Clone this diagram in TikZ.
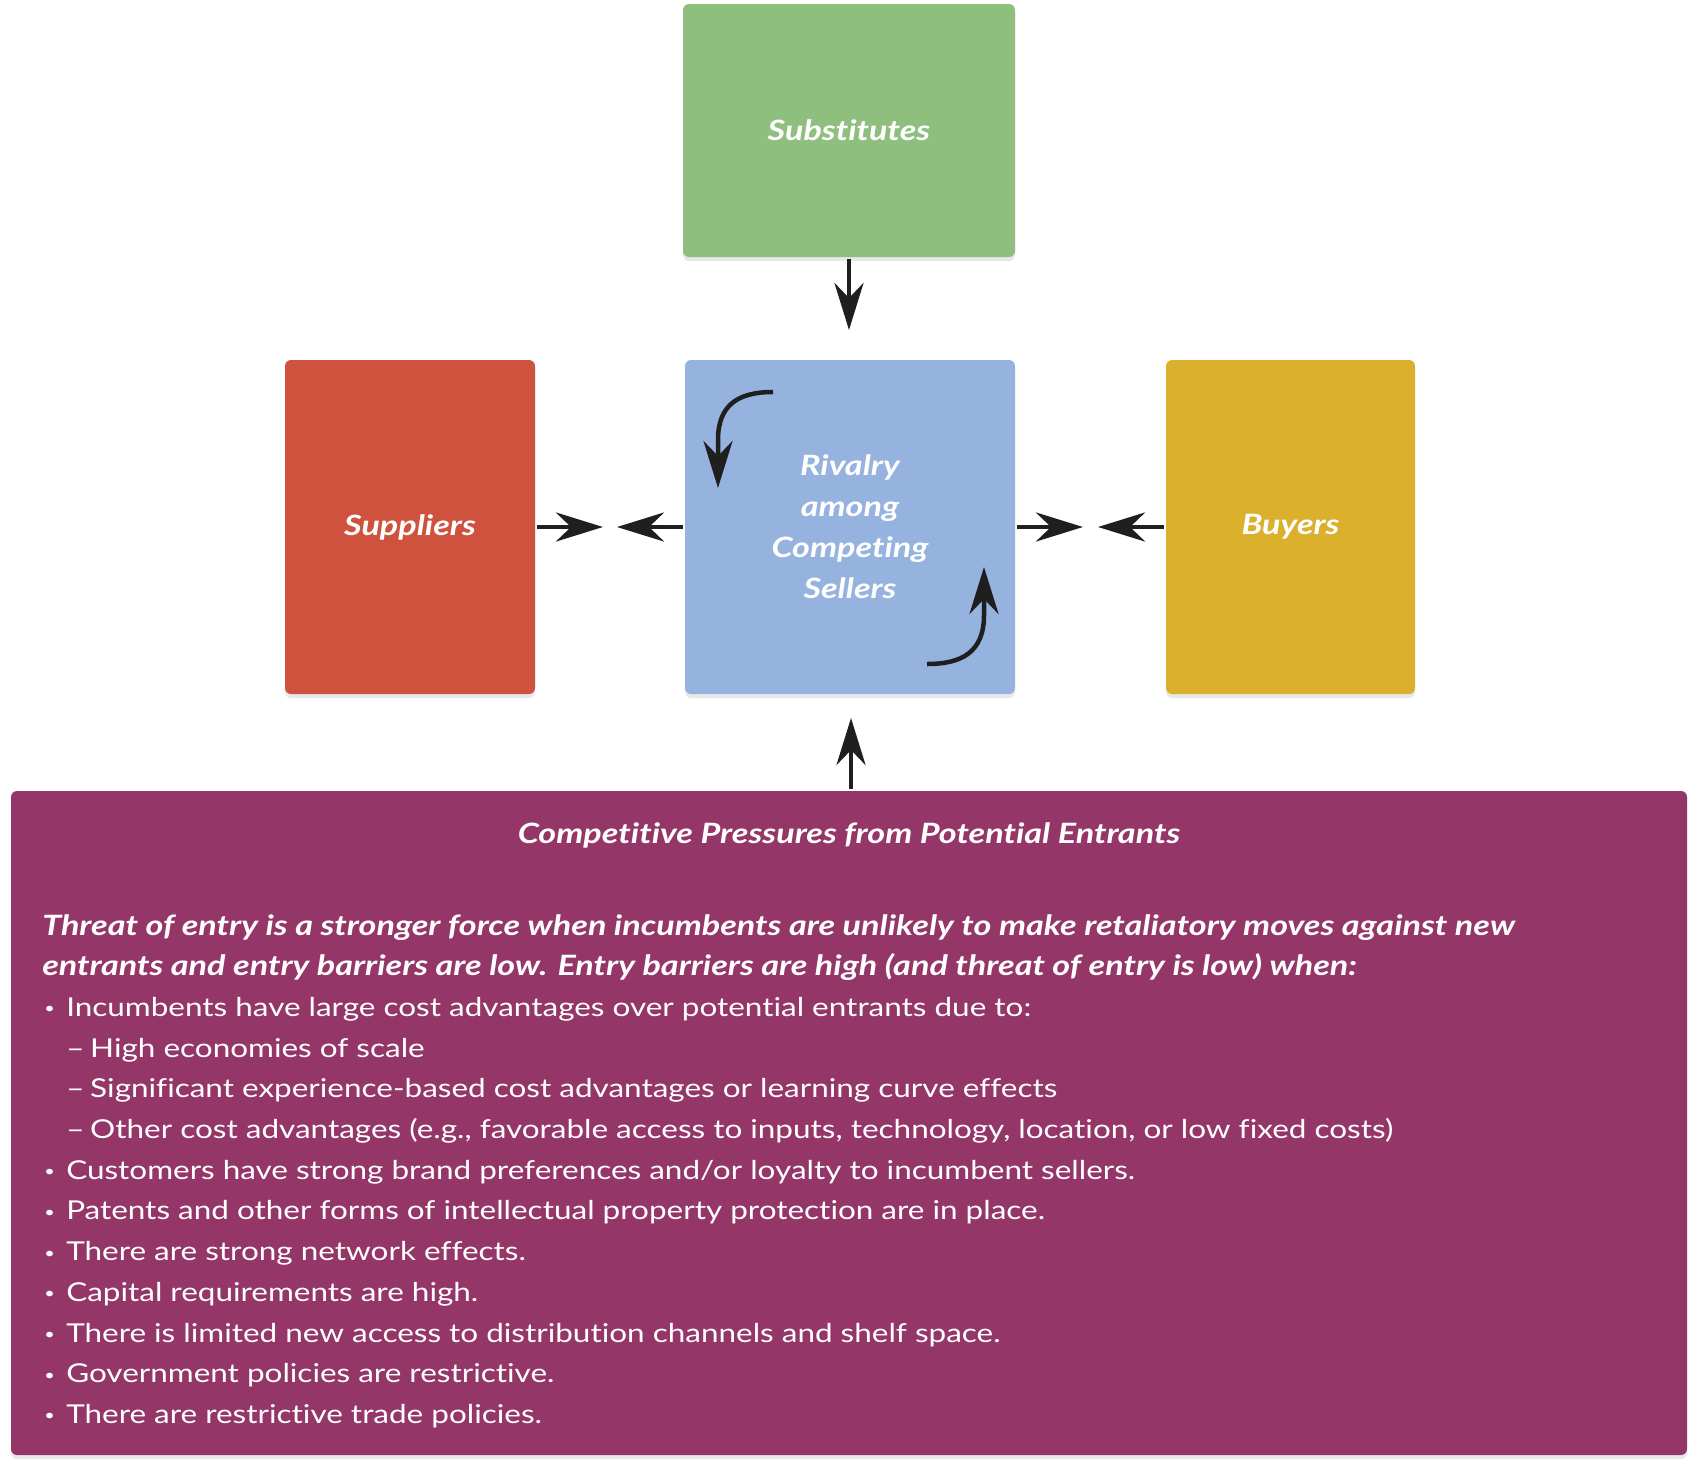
\documentclass[tikz,border=0pt]{standalone}
\usepackage{fontspec}
\setmainfont{Lato}[Ligatures = NoCommon,
    UprightFeatures = {FakeStretch = 1.21},
    BoldItalicFeatures = {FakeStretch = 1.22}]
\usetikzlibrary{arrows.meta,shadows}

\definecolor{subsgreen}{RGB}{143,191,127}
\definecolor{rivalblue}{RGB}{149,179,222}
\definecolor{suppred}{RGB}{206,82,61}
\definecolor{buyyellow}{RGB}{219,176,45}
\definecolor{entrpurple}{RGB}{148,55,104}

\newcommand{\blt}{\makebox[24pt][l]{\hspace{2pt}\raisebox{2.5pt}{\fontsize{15}{15}\selectfont\textbullet}}}
\newcommand{\dsh}{\hspace*{24pt}\makebox[24pt][l]{–}}
\newcommand{\lead}[1]{{\fontsize{28}{40.7}\selectfont\bfseries\itshape #1}}

\begin{document}
\begin{tikzpicture}[x = 1pt, y = -1pt, line width = 4.5pt,
    force/.style = {rectangle, rounded corners = 6pt, inner sep = 0pt,
        drop shadow = {shadow xshift = 0pt, shadow yshift = -4pt, opacity = 0.18},
        text = white, font = \fontsize{28}{41}\selectfont\bfseries\itshape, align = center},
    arr/.style = {-{Stealth[length = 47pt, width = 29pt, inset = 15pt]}, black!88}]
\useasboundingbox (0,0) rectangle (1700,1475);
\draw (849,130.5) node[force, fill = subsgreen, minimum width = 332pt, minimum height = 253pt](subs){Substitutes}
    (850,527) node[force, fill = rivalblue, minimum width = 330pt, minimum height = 334pt](rival){Rivalry\\among\\Competing\\Sellers}
    (410,527) node[force, fill = suppred, minimum width = 250pt, minimum height = 334pt](supp){Suppliers}
    (1290.5,527) node[force, fill = buyyellow, minimum width = 249pt, minimum height = 334pt](buyers){Buyers}
    (849,1123) node[force, fill = entrpurple, minimum width = 1676pt, minimum height = 664pt](entr){};
% arrow tips in the gaps
\coordinate (substip) at (849,330);
\coordinate (entrtip) at (851,718);
\coordinate (supptip) at (603,527);
\coordinate (rivltip) at (617,527);
\coordinate (rivrtip) at (1083,527);
\coordinate (buytip) at (1098,527);
\draw [arr] (subs.south) -- (substip);
\draw [arr] (entr.north -| entrtip) -- (entrtip);
\draw [arr] (supp.east) -- (supptip);
\draw [arr] (rival.west) -- (rivltip);
\draw [arr] (rival.east) -- (rivrtip);
\draw [arr] (buyers.west) -- (buytip);
% rivalry turning arrows
\coordinate (tlstart) at (773,392);
\coordinate (tltip) at (718,488);
\coordinate (brstart) at (927,664);
\coordinate (brtip) at (984,567);
\draw [arr] (tlstart) .. controls (738,392) and (718,405) .. (718,440) -- (tltip);
\draw [arr] (brstart) .. controls (962,664) and (984,652) .. (984,615) -- (brtip);
% entrants text
\node[text = white, font = \fontsize{28}{41}\selectfont\bfseries\itshape] (entrtitle) at (849,835) {Competitive Pressures from Potential Entrants};
\node[anchor = north west, inner sep = 0pt, text = white, align = left,
    font = \fontsize{26}{40.7}\selectfont] (entrtext) at (40,912) {%
    \lead{Threat of entry is a stronger force when incumbents are unlikely to make retaliatory moves against new}\\
    \lead{entrants and entry barriers are low. Entry barriers are high (and threat of entry is low) when:}\\
    \blt Incumbents have large cost advantages over potential entrants due to:\\
    \dsh High economies of scale\\
    \dsh Significant experience-based cost advantages or learning curve effects\\
    \dsh Other cost advantages (e.g., favorable access to inputs, technology, location, or low fixed costs)\\
    \blt Customers have strong brand preferences and/or loyalty to incumbent sellers.\\
    \blt Patents and other forms of intellectual property protection are in place.\\
    \blt There are strong network effects.\\
    \blt Capital requirements are high.\\
    \blt There is limited new access to distribution channels and shelf space.\\
    \blt Government policies are restrictive.\\
    \blt There are restrictive trade policies.};
\end{tikzpicture}
\end{document}
